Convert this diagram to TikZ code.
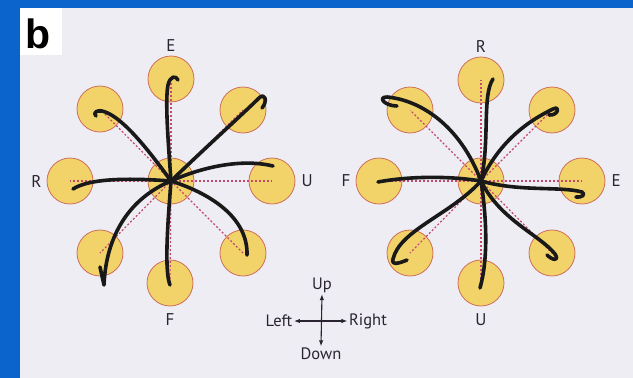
\documentclass[tikz,border=0pt]{standalone}
\usepackage{fontspec}
\setmainfont{PT Sans}
\newfontfamily\panelfont{Liberation Sans}
\usepackage{xcolor}
\usetikzlibrary{arrows.meta, positioning}

\definecolor{slideblue}{HTML}{0A64CC}
\definecolor{paper}{HTML}{EDEDF3}
\definecolor{padfill}{HTML}{F2D36A}
\definecolor{padedge}{HTML}{CF6F5A}
\definecolor{spokered}{HTML}{C4486E}
\definecolor{inkgrey}{HTML}{2A2430}

\begin{document}
\begin{tikzpicture}[
    x=1pt, y=-1pt,
    pad/.style={
        circle,
        draw=padedge,
        line width=0.8pt,
        fill=padfill,
        minimum size=46pt,
        inner sep=0pt
    },
    spoke/.style={draw=spokered, line width=1.2pt, dash pattern=on 2pt off 2pt},
    trace/.style={draw=black!90, line width=3.6pt, line cap=round, line join=round},
    dirlabel/.style={text=inkgrey, font=\fontsize{17}{17}\selectfont, inner sep=0pt},
    legend/.style={text=inkgrey, font=\fontsize{16.5}{16.5}\selectfont, inner sep=1.5pt},
    legarrow/.style={draw=inkgrey, line width=1.1pt, {Latex[length=6pt,width=4.5pt]}-{Latex[length=6pt,width=4.5pt]}}
]

\useasboundingbox (0,0) rectangle (633,378);
\fill[slideblue] (0,0) rectangle (633,378);
\fill[paper] (20,8) rectangle (633,378);
\fill[white] (20,8) rectangle (62,55);
\node[anchor=base west, inner sep=0pt, font=\panelfont\bfseries\fontsize{41}{41}\selectfont] (panel) at (25,48) {b};

% left pattern
\node[pad] (lhub) at (171,181) {};
\node[pad] (ln) at (171,79) {};
\node[pad] (lne) at (243,110) {};
\node[pad] (le) at (272,181) {};
\node[pad] (lse) at (243,253) {};
\node[pad] (ls) at (170,283) {};
\node[pad] (lsw) at (100,253) {};
\node[pad] (lw) at (70,181) {};
\node[pad] (lnw) at (100,109) {};

\node[dirlabel, above=4pt of ln] (lnlab) {E};
\node[dirlabel, left=5pt of lw] (lwlab) {R};
\node[dirlabel, right=6pt of le] (lelab) {U};
\node[dirlabel, below=7pt of ls] (lslab) {F};

\draw[spoke] (lhub.center) -- (ln.center);
\draw[spoke] (lhub.center) -- (lne.center);
\draw[spoke] (lhub.center) -- (le.center);
\draw[spoke] (lhub.center) -- (lse.center);
\draw[spoke] (lhub.center) -- (ls.center);
\draw[spoke] (lhub.center) -- (lsw.center);
\draw[spoke] (lhub.center) -- (lw.center);
\draw[spoke] (lhub.center) -- (lnw.center);

\draw[trace] (lhub.center) .. controls (168,140) and (165,100) .. (168,85) .. controls (170,76) and (176,75) .. (178,80);
\draw[trace] (lhub.center) .. controls (145,145) and (120,115) .. (102,111) .. controls (96,110) and (93,113) .. (96,116);
\draw[trace] (lhub.center) .. controls (205,148) and (245,112) .. (259,98) .. controls (265,92) and (268,101) .. (262,108);
\draw[trace] (lhub.center) .. controls (200,168) and (240,158) .. (273,166);
\draw[trace] (lhub.center) .. controls (130,178) and (90,178) .. (73,189);
\draw[trace] (lhub.center) .. controls (130,198) and (106,235) .. (104,285) -- (100,267);
\draw[trace] (lhub.center) .. controls (168,220) and (164,270) .. (170,285);
\draw[trace] (lhub.center) .. controls (215,195) and (248,220) .. (247,255);

% right pattern
\node[pad] (rhub) at (481,181) {};
\node[pad] (rn) at (481,80) {};
\node[pad] (rne) at (552,110) {};
\node[pad] (re) at (582,181) {};
\node[pad] (rse) at (552,253) {};
\node[pad] (rs) at (481,283) {};
\node[pad] (rsw) at (410,253) {};
\node[pad] (rw) at (379,181) {};
\node[pad] (rnw) at (410,110) {};

\node[dirlabel, above=4pt of rn] (rnlab) {R};
\node[dirlabel, left=5pt of rw] (rwlab) {F};
\node[dirlabel, right=6pt of re] (relab) {E};
\node[dirlabel, below=7pt of rs] (rslab) {U};

\draw[spoke] (rhub.center) -- (rn.center);
\draw[spoke] (rhub.center) -- (rne.center);
\draw[spoke] (rhub.center) -- (re.center);
\draw[spoke] (rhub.center) -- (rse.center);
\draw[spoke] (rhub.center) -- (rs.center);
\draw[spoke] (rhub.center) -- (rsw.center);
\draw[spoke] (rhub.center) -- (rw.center);
\draw[spoke] (rhub.center) -- (rnw.center);

\draw[trace] (rhub.center) .. controls (490,140) and (482,95) .. (493,79);
\draw[trace] (rhub.center) .. controls (460,125) and (420,100) .. (387,97) .. controls (377,97) and (385,106) .. (397,106);
\draw[trace] (rhub.center) .. controls (500,140) and (530,120) .. (553,109) .. controls (561,105) and (558,116) .. (549,115);
\draw[trace] (rhub.center) .. controls (450,176) and (410,176) .. (378,182);
\draw[trace] (rhub.center) .. controls (520,192) and (560,186) .. (582,192) .. controls (586,194) and (582,198) .. (576,197);
\draw[trace] (rhub.center) .. controls (450,215) and (400,230) .. (393,259) .. controls (391,266) and (400,263) .. (407,260);
\draw[trace] (rhub.center) .. controls (487,220) and (488,260) .. (480,288);
\draw[trace] (rhub.center) .. controls (500,220) and (540,235) .. (555,254) .. controls (560,262) and (552,260) .. (547,255);

% direction key
\node[legend] (lup) at (322,285) {Up};
\node[legend] (ldown) at (321,354) {Down};
\node[legend] (lleft) at (279,321) {Left};
\node[legend] (lright) at (368,321) {Right};

\draw[legarrow] (lup.south) -- (ldown.north);
\draw[legarrow] (lleft.east) -- (lright.west);

\end{tikzpicture}
\end{document}
